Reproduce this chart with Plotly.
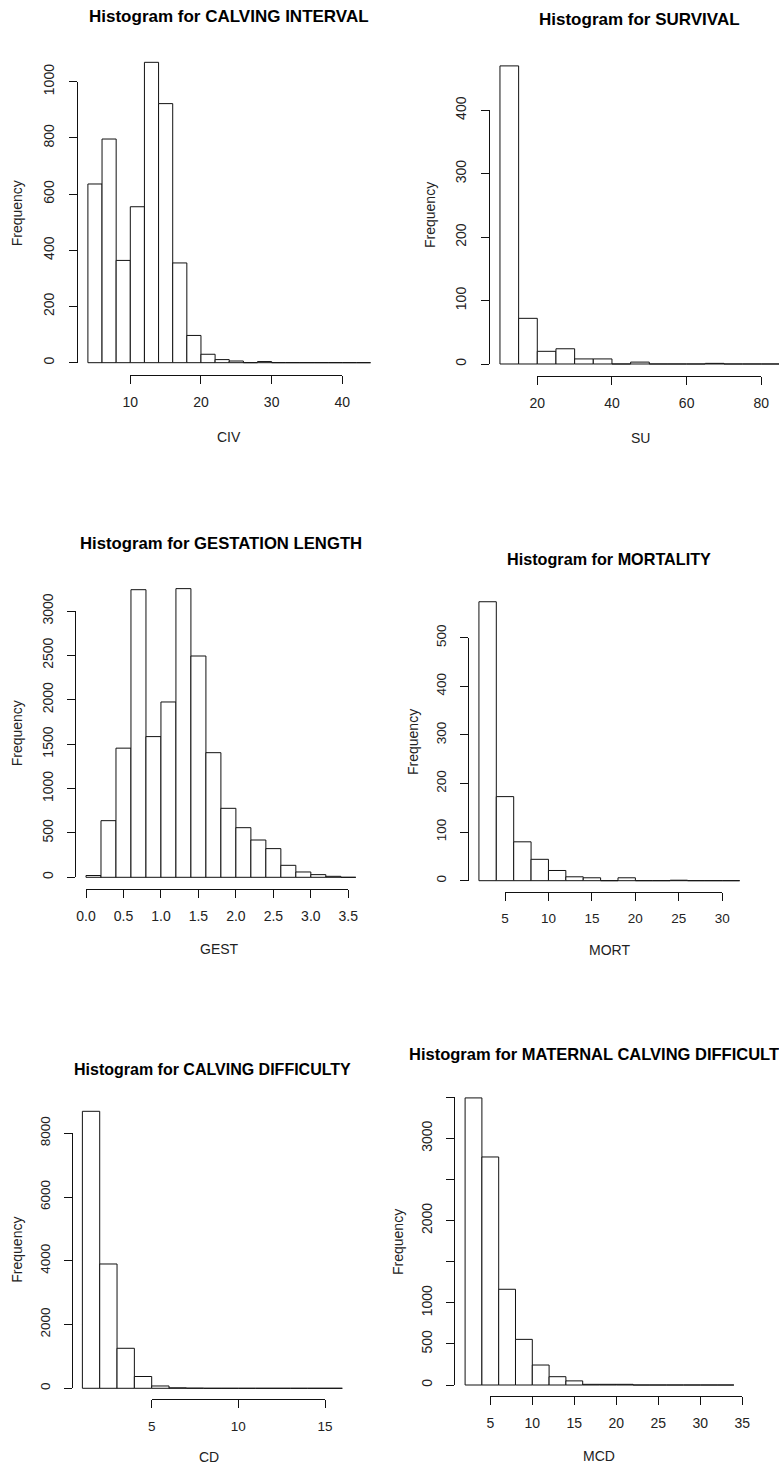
import plotly.graph_objects as go

W, H = 779, 1468

# ---------------- data ----------------
civ_start, civ_width = 4, 2
civ_counts = [636, 796, 364, 555, 1069, 922, 355, 97, 30, 11, 6, 0, 4, 0, 0, 0, 0, 0, 0, 0]
civ_xticks = [10, 20, 30, 40]
civ_yticks = [0, 200, 400, 600, 800, 1000]

su_start, su_width = 10, 5
su_counts = [470, 72, 20, 24, 8, 8, 0, 3, 0, 0, 0, 1, 0, 0, 0]
su_xticks = [20, 40, 60, 80]
su_yticks = [0, 100, 200, 300, 400]

gest_start, gest_width = 0.0, 0.2
gest_counts = [20, 638, 1455, 3240, 1585, 1975, 3252, 2493, 1404, 777, 559, 420, 323, 135, 60, 30, 11, 0]
gest_xticks = [0.0, 0.5, 1.0, 1.5, 2.0, 2.5, 3.0, 3.5]
gest_yticks = [0, 500, 1000, 1500, 2000, 2500, 3000]

mort_start, mort_width = 2, 2
mort_counts = [574, 173, 80, 44, 21, 8, 6, 0, 6, 0, 0, 1, 0, 0, 0]
mort_xticks = [5, 10, 15, 20, 25, 30]
mort_yticks = [0, 100, 200, 300, 400, 500]

cd_start, cd_width = 1, 1
cd_counts = [8690, 3900, 1255, 370, 73, 15, 5, 0, 0, 0, 0, 0, 0, 0, 0]
cd_xticks = [5, 10, 15]
cd_yticks = [0, 2000, 4000, 6000, 8000]

mcd_start, mcd_width = 2, 2
mcd_counts = [3491, 2773, 1164, 555, 243, 101, 50, 8, 8, 8, 0, 0, 0, 0, 0, 0]
mcd_xticks = [5, 10, 15, 20, 25, 30, 35]
mcd_yticks = [0, 500, 1000, 1500, 2000, 2500, 3000, 3500]
mcd_yticklabels = ["0", "500", "1000", "", "2000", "", "3000", ""]

titles = ["Histogram for CALVING INTERVAL", "Histogram for SURVIVAL",
          "Histogram for GESTATION LENGTH", "Histogram for MORTALITY",
          "Histogram for CALVING DIFFICULTY", "Histogram for MATERNAL CALVING DIFFICULTY"]
xlabels = ["CIV", "SU", "GEST", "MORT", "CD", "MCD"]

# ---------------- layout geometry (pixel calibration of each panel) ----------------
panels = [
    dict(start=civ_start, width=civ_width, counts=civ_counts, xt=civ_xticks, yt=civ_yticks, ytl=None,
         xcal=(10, 130.3, 40, 342.3), ycal=(0, 362.7, 1000, 81.7),
         title_y=16.7, title_size=17, xlab=(229, 436.7), ylab=(17.3, 213), fs=14, xfmt=None),
    dict(start=su_start, width=su_width, counts=su_counts, xt=su_xticks, yt=su_yticks, ytl=None,
         xcal=(20, 537.3, 80, 761.3), ycal=(0, 364, 400, 110.3),
         title_y=20, title_size=17, xlab=(640, 438.3), ylab=(430, 215), fs=14, xfmt=None),
    dict(start=gest_start, width=gest_width, counts=gest_counts, xt=gest_xticks, yt=gest_yticks, ytl=None,
         xcal=(0, 86, 3.5, 348.3), ycal=(0, 877.3, 3000, 611),
         title_y=543, title_size=16.7, xlab=(220, 949), ylab=(17.3, 733), fs=14, xfmt=".1f"),
    dict(start=mort_start, width=mort_width, counts=mort_counts, xt=mort_xticks, yt=mort_yticks, ytl=None,
         xcal=(5, 505, 30, 722.3), ycal=(0, 880.7, 500, 637.7),
         title_y=559.3, title_size=16.2, xlab=(609, 950), ylab=(412.3, 741.7), fs=13.5, xfmt=None),
    dict(start=cd_start, width=cd_width, counts=cd_counts, xt=cd_xticks, yt=cd_yticks, ytl=None,
         xcal=(5, 151.7, 15, 325), ycal=(0, 1388.3, 8000, 1133.3),
         title_y=1069.3, title_size=16, xlab=(209, 1456.7), ylab=(16.7, 1250), fs=13.5, xfmt=None),
    dict(start=mcd_start, width=mcd_width, counts=mcd_counts, xt=mcd_xticks, yt=mcd_yticks, ytl=mcd_yticklabels,
         xcal=(5, 490.3, 35, 742.3), ycal=(0, 1385, 3000, 1138.3),
         title_y=1054, title_size=16.5, xlab=(599, 1456), ylab=(397.3, 1241.7), fs=14, xfmt=None),
]

FONT = "Liberation Sans, Arial, sans-serif"
TXT = "#222222"
LINE = "#111111"


def lin(cal):
    va, pa, vb, pb = cal
    k = (pb - pa) / (vb - va)
    return (lambda v: pa + (v - va) * k), (lambda p: va + (p - pa) / k)


def px(x):
    return x / W


def py(y):
    return 1 - y / H


fig = go.Figure()
layout = {}
annotations = []

for i, p in enumerate(panels):
    a = 2 * i + 1   # data axes
    b = 2 * i + 2   # decorative (R-style detached) axes
    fx, fx_inv = lin(p["xcal"])
    fy, fy_inv = lin(p["ycal"])
    n = len(p["counts"])
    b0 = p["start"]
    bn = p["start"] + n * p["width"]
    ext = 0.04 * (bn - b0)
    xr = [b0 - ext, bn + ext]
    ymax = max(p["counts"])
    yr = [-0.04 * ymax, 1.04 * ymax]
    left, right_full = fx(xr[0]), fx(xr[1])
    right = right_full
    if right > W:
        right = W
        xr[1] = fx_inv(W)
    top, bottom = fy(yr[1]), fy(yr[0])

    centers = [p["start"] + (j + 0.5) * p["width"] for j in range(n)]
    fig.add_trace(go.Bar(x=centers, y=p["counts"], width=[p["width"]] * n,
                         marker=dict(color="white", line=dict(color=LINE, width=1)),
                         xaxis=f"x{a}", yaxis=f"y{a}", showlegend=False, hoverinfo="skip"))
    fig.add_trace(go.Scatter(x=[None], y=[None], mode="markers", xaxis=f"x{b}", yaxis=f"y{b}",
                             showlegend=False, hoverinfo="skip"))

    layout[f"xaxis{a}"] = dict(domain=[px(left), px(right)], range=xr, visible=False,
                               anchor=f"y{a}", fixedrange=True, automargin=False)
    layout[f"yaxis{a}"] = dict(domain=[py(bottom), py(top)], range=yr, visible=False,
                               anchor=f"x{a}", fixedrange=True, automargin=False)

    xt = p["xt"]
    yt = p["yt"]
    xtick_text = [format(v, p["xfmt"]) if p["xfmt"] else str(v) for v in xt]
    ytick_text = p["ytl"] if p["ytl"] else [str(v) for v in yt]
    layout[f"xaxis{b}"] = dict(domain=[px(fx(xt[0])), px(fx(xt[-1]))], range=[xt[0], xt[-1]],
                               anchor="free", position=py(bottom), showline=True, linecolor=LINE,
                               linewidth=1, ticks="outside", ticklen=8, tickwidth=1, tickcolor=LINE,
                               tickvals=xt, ticktext=xtick_text, showgrid=False, zeroline=False,
                               tickfont=dict(family=FONT, size=p["fs"], color=TXT),
                               ticklabelstandoff=6, fixedrange=True, automargin=False)
    layout[f"yaxis{b}"] = dict(domain=[py(fy(yt[0])), py(fy(yt[-1]))], range=[yt[0], yt[-1]],
                               anchor="free", position=px(left), showline=True, linecolor=LINE,
                               linewidth=1, ticks="outside", ticklen=8, tickwidth=1, tickcolor=LINE,
                               tickvals=yt, ticktext=ytick_text, showgrid=False, zeroline=False,
                               tickangle=-90, tickfont=dict(family=FONT, size=p["fs"], color=TXT),
                               ticklabelstandoff=9, fixedrange=True, automargin=False)

    annotations.append(dict(text=f"<b>{titles[i]}</b>", x=px((left + right_full) / 2),
                            y=py(p["title_y"]), xref="paper", yref="paper", xanchor="center",
                            yanchor="middle", showarrow=False,
                            font=dict(family=FONT, size=p["title_size"], color="#000000")))
    annotations.append(dict(text=xlabels[i], x=px(p["xlab"][0]), y=py(p["xlab"][1]), xref="paper",
                            yref="paper", xanchor="center", yanchor="middle", showarrow=False,
                            font=dict(family=FONT, size=14, color=TXT)))
    annotations.append(dict(text="Frequency", x=px(p["ylab"][0]), y=py(p["ylab"][1]), xref="paper",
                            yref="paper", xanchor="center", yanchor="middle", showarrow=False,
                            textangle=-90, font=dict(family=FONT, size=14, color=TXT)))

fig.update_layout(width=W, height=H, margin=dict(l=0, r=0, t=0, b=0, pad=0, autoexpand=False),
                  paper_bgcolor="white", plot_bgcolor="rgba(0,0,0,0)", showlegend=False,
                  bargap=0, annotations=annotations, **layout)

fig.write_html("out.html", config={"displayModeBar": False, "staticPlot": True},
               post_script="document.body.style.margin='0px';document.body.style.overflow='hidden';")
